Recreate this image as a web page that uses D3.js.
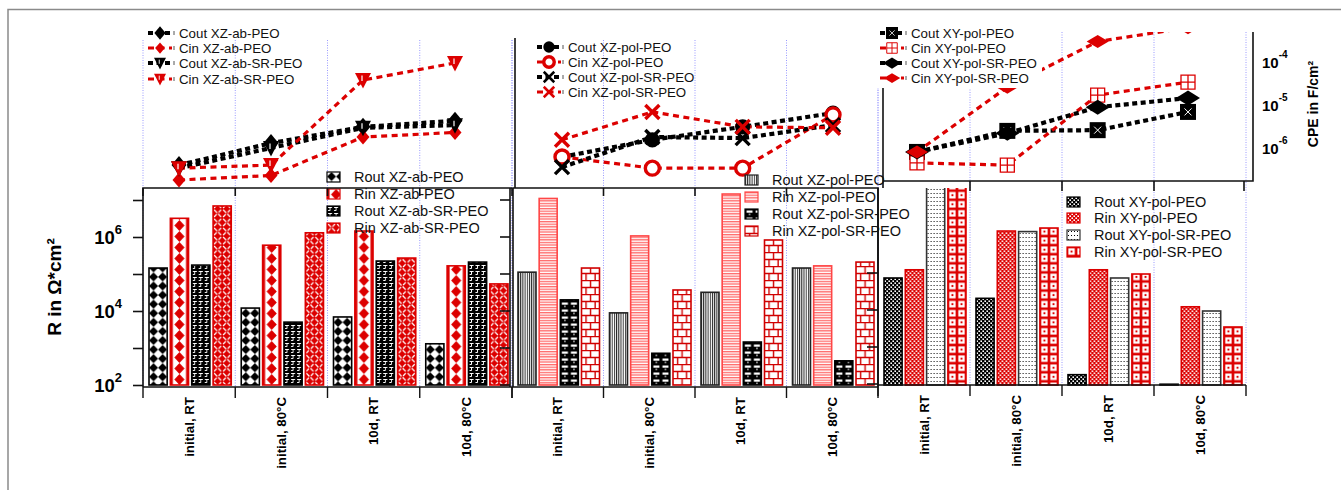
<!DOCTYPE html>
<html>
<head>
<meta charset="utf-8">
<script src="https://cdn.jsdelivr.net/npm/d3@7"></script>
<style>
  body { margin: 0; background: #fff; }
  svg { display: block; font-family: Arial, "Liberation Sans", sans-serif; }
</style>
</head>
<body>
<div id="chart"></div>
<script>
// ---- data -------------------------------------------------------------
const categories = ["initial, RT", "initial, 80°C", "10d, RT", "10d, 80°C"];

// resistance, Ohm*cm2
const routAbPeo    = [1.45e5, 1.2e4, 6.9e3, 1.3e3];
const rinAbPeo     = [3.2e6, 6.0e5, 1.45e6, 1.66e5];
const routAbSrPeo  = [1.74e5, 5.0e3, 2.24e5, 2.1e5];
const rinAbSrPeo   = [6.9e6, 1.3e6, 2.7e5, 5.4e4];

const routPolPeo   = [1.12e5, 8.9e3, 3.2e4, 1.45e5];
const rinPolPeo    = [1.1e7, 1.07e6, 1.45e7, 1.66e5];
const routPolSrPeo = [2.0e4, 7.2e2, 1.45e3, 4.5e2];
const rinPolSrPeo  = [1.45e5, 3.7e4, 8.3e5, 2.1e5];

const routXyPeo    = [7.8e4, 2.2e4, 1.9e2, 1.05e2];
const rinXyPeo     = [1.3e5, 1.45e6, 1.3e5, 1.3e4];
const routXySrPeo  = [5e7, 1.4e6, 7.8e4, 1.0e4];
const rinXySrPeo   = [5e7, 1.75e6, 1.0e5, 3.7e3];

// CPE, F/cm2
const coutAbPeo    = [4.0e-7, 1.3e-6, 3.1e-6, 4.3e-6];
const cinAbPeo     = [1.8e-7, 2.3e-7, 1.8e-6, 2.3e-6];
const coutAbSrPeo  = [3.4e-7, 1.0e-6, 2.95e-6, 3.4e-6];
const cinAbSrPeo   = [3.4e-7, 4.0e-7, 3.8e-5, 9.5e-5];

const coutPolPeo   = [6.2e-7, 1.55e-6, 3.1e-6, 6.5e-6];
const cinPolPeo    = [6.2e-7, 3.4e-7, 3.4e-7, 5.9e-6];
const coutPolSrPeo = [3.6e-7, 1.8e-6, 1.7e-6, 3.4e-6];
const cinPolSrPeo  = [1.55e-6, 6.9e-6, 3.1e-6, 2.95e-6];

const coutXyPeo    = [8.1e-7, 2.5e-6, 2.6e-6, 6.9e-6];
const cinXyPeo     = [4.5e-7, 4.0e-7, 1.7e-5, 3.4e-5];
const coutXySrPeo  = [8.1e-7, 2.2e-6, 8.9e-6, 1.45e-5];
const cinXySrPeo   = [8.1e-7, 2.6e-5, 3.0e-4, 6.3e-4];

const rTicks = [1e2, 1e3, 1e4, 1e5, 1e6, 1e7];
const rLabels = [1e2, 1e4, 1e6];
const cLabels = [1e-4, 1e-5, 1e-6];

// ---- layout -----------------------------------------------------------
const W = 1341, H = 490;
const RED = "#dc0000";

const svg = d3.select("#chart").append("svg")
  .attr("width", W).attr("height", H);
const defs = svg.append("defs");

// outer frame (only top/left visible)
svg.append("path").attr("d", "M8,490V9.5H1341")
  .attr("fill", "none").attr("stroke", "#8a8a8a").attr("stroke-width", 1.5);

const yR = d3.scaleLog().domain([1e2, 1e7]).range([385, 200]);
const yC = d3.scaleLog().domain([1e-6, 1e-4]).range([148, 62]);

const panels = [
  {
    range: [143, 512], lineRange: [179, 455], lineTop: 40, gridTop: 40, barBottom: 387,
    bars: [
      { name: "Rout XZ-ab-PEO", values: routAbPeo, pat: "pAbOut", stroke: "#000" },
      { name: "Rin XZ-ab-PEO", values: rinAbPeo, pat: "pAbIn", stroke: RED },
      { name: "Rout XZ-ab-SR-PEO", values: routAbSrPeo, pat: "pAbSrOut", stroke: "#000" },
      { name: "Rin XZ-ab-SR-PEO", values: rinAbSrPeo, pat: "pAbSrIn", stroke: RED }
    ],
    barLegend: { x: 327, rows: [177, 194, 211, 228] },
    lines: [
      { name: "Cout XZ-ab-PEO", values: coutAbPeo, color: "#000", marker: "diamond" },
      { name: "Cin XZ-ab-PEO", values: cinAbPeo, color: RED, marker: "diamondS" },
      { name: "Cout XZ-ab-SR-PEO", values: coutAbSrPeo, color: "#000", marker: "tri" },
      { name: "Cin XZ-ab-SR-PEO", values: cinAbSrPeo, color: RED, marker: "tri" }
    ],
    lineLegend: { x: 148, rows: [33, 48, 63, 79] }
  },
  {
    range: [512, 878], lineRange: [562, 833], lineTop: 38, gridTop: 40, barBottom: 387,
    bars: [
      { name: "Rout XZ-pol-PEO", values: routPolPeo, pat: "pPolOut", stroke: "#222" },
      { name: "Rin XZ-pol-PEO", values: rinPolPeo, pat: "pPolIn", stroke: "#ff4646" },
      { name: "Rout XZ-pol-SR-PEO", values: routPolSrPeo, pat: "pPolSrOut", stroke: "#000" },
      { name: "Rin XZ-pol-SR-PEO", values: rinPolSrPeo, pat: "pPolSrIn", stroke: "#d00000" }
    ],
    barLegend: { x: 745, rows: [180, 197, 214, 231] },
    lines: [
      { name: "Cout XZ-pol-PEO", values: coutPolPeo, color: "#000", marker: "circle" },
      { name: "Cin XZ-pol-PEO", values: cinPolPeo, color: RED, marker: "circleOpen" },
      { name: "Cout XZ-pol-SR-PEO", values: coutPolSrPeo, color: "#000", marker: "cross" },
      { name: "Cin XZ-pol-SR-PEO", values: cinPolSrPeo, color: RED, marker: "cross" }
    ],
    lineLegend: { x: 537, rows: [47, 62, 77, 92] }
  },
  {
    range: [878, 1246], lineRange: [917, 1188], lineTop: 32, gridTop: 32, barBottom: 385,
    bars: [
      { name: "Rout XY-pol-PEO", values: routXyPeo, pat: "pXyOut", stroke: "#000" },
      { name: "Rin XY-pol-PEO", values: rinXyPeo, pat: "pXyIn", stroke: RED },
      { name: "Rout XY-pol-SR-PEO", values: routXySrPeo, pat: "pXySrOut", stroke: "#333" },
      { name: "Rin XY-pol-SR-PEO", values: rinXySrPeo, pat: "pXySrIn", stroke: RED }
    ],
    barLegend: { x: 1067, rows: [202, 218, 235, 252] },
    lines: [
      { name: "Cout XY-pol-PEO", values: coutXyPeo, color: "#000", marker: "square" },
      { name: "Cin XY-pol-PEO", values: cinXyPeo, color: RED, marker: "squareOpen" },
      { name: "Cout XY-pol-SR-PEO", values: coutXySrPeo, color: "#000", marker: "flat" },
      { name: "Cin XY-pol-SR-PEO", values: cinXySrPeo, color: RED, marker: "flatS" }
    ],
    lineLegend: { x: 880, rows: [33, 48, 63, 78] }
  }
];

// bar width from first panel's scales
const band0 = d3.scaleBand().domain(categories).range(panels[0].range);
const inner0 = d3.scaleBand().domain(d3.range(4)).range([6, band0.bandwidth() - 4]).paddingInner(0.15);
const bw = inner0.bandwidth();

// ---- patterns ---------------------------------------------------------
function pattern(id, w, h, draw) {
  const p = defs.append("pattern").attr("id", id)
    .attr("patternUnits", "userSpaceOnUse").attr("width", w).attr("height", h);
  draw(p, w, h);
}
pattern("pAbOut", bw / 2, bw / 2, (p, w, h) => {
  p.append("rect").attr("width", w).attr("height", h).attr("fill", "#fff");
  p.append("path").attr("d", `M${w/2},0L${w},${h/2}L${w/2},${h}L0,${h/2}Z`).attr("fill", "#000");
});
pattern("pAbIn", bw, 11, (p, w, h) => {
  p.append("rect").attr("width", w).attr("height", h).attr("fill", "#fff");
  p.append("path").attr("d", `M${w/2},0L${w*0.78},${h/2}L${w/2},${h}L${w*0.22},${h/2}Z`).attr("fill", RED);
  p.append("rect").attr("width", 2.5).attr("height", h).attr("fill", RED);
  p.append("rect").attr("x", w - 2.5).attr("width", 2.5).attr("height", h).attr("fill", RED);
});
pattern("pAbSrOut", bw / 3, 6, (p, w, h) => {
  p.append("rect").attr("width", w).attr("height", h).attr("fill", "#000");
  p.append("path").attr("d", `M1,1.5H${w-1}M${w/2},1.5V4.5M1,4.5H${w/2}`)
    .attr("stroke", "#fff").attr("stroke-width", 0.9).attr("fill", "none");
});
pattern("pAbSrIn", bw / 2, bw / 2, (p, w, h) => {
  p.append("rect").attr("width", w).attr("height", h).attr("fill", RED);
  p.append("path").attr("d", `M1,1L${w/2-0.5},${h/2-0.5}M${w/2+0.5},${h/2+0.5}L${w-1},${h-1}M${w-1},1L${w/2+1},${h/2-1}M${w/2-1},${h/2+1}L1,${h-1}`)
    .attr("stroke", "#fff").attr("stroke-width", 1.3).attr("fill", "none");
});
pattern("pPolOut", 2.2, 4, (p, w, h) => {
  p.append("rect").attr("width", w).attr("height", h).attr("fill", "#fff");
  p.append("rect").attr("width", 1).attr("height", h).attr("fill", "#222");
});
pattern("pPolIn", 4, 2.6, (p, w, h) => {
  p.append("rect").attr("width", w).attr("height", h).attr("fill", "#fff");
  p.append("rect").attr("width", w).attr("height", 1.3).attr("fill", "#ff6a6a");
});
pattern("pPolSrOut", bw / 2, 7, (p, w, h) => {
  p.append("rect").attr("width", w).attr("height", h).attr("fill", "#000");
  p.append("rect").attr("x", 1.5).attr("y", 1.5).attr("width", w - 3).attr("height", 2.2).attr("fill", "#fff");
  p.append("rect").attr("x", w / 2 - 0.5).attr("y", 4.5).attr("width", 1).attr("height", 1.8).attr("fill", "#fff");
});
pattern("pPolSrIn", bw, 14, (p, w, h) => {
  p.append("rect").attr("width", w).attr("height", h).attr("fill", "#fff");
  p.append("path").attr("d", `M0,0.5H${w}M0,7.5H${w}M${w/2},0V7M${w/4},7V14M${w*3/4},7V14`)
    .attr("stroke", "#d00000").attr("stroke-width", 1.4).attr("fill", "none");
});
pattern("pXyOut", 4, 4, (p, w, h) => {
  p.append("rect").attr("width", w).attr("height", h).attr("fill", "#000");
  p.append("rect").attr("x", 0.4).attr("y", 0.4).attr("width", 1.6).attr("height", 1.6).attr("fill", "#fff");
  p.append("rect").attr("x", 2.4).attr("y", 2.4).attr("width", 1.6).attr("height", 1.6).attr("fill", "#fff");
});
pattern("pXyIn", 4, 4, (p, w, h) => {
  p.append("rect").attr("width", w).attr("height", h).attr("fill", RED);
  p.append("rect").attr("x", 0.4).attr("y", 0.4).attr("width", 1.6).attr("height", 1.6).attr("fill", "#fff");
  p.append("rect").attr("x", 2.4).attr("y", 2.4).attr("width", 1.6).attr("height", 1.6).attr("fill", "#fff");
});
pattern("pXySrOut", 3, 4, (p, w, h) => {
  p.append("rect").attr("width", w).attr("height", h).attr("fill", "#fff");
  p.append("rect").attr("x", 1).attr("y", 1).attr("width", 1).attr("height", 1).attr("fill", "#000");
});
pattern("pXySrIn", bw / 2, bw / 2, (p, w, h) => {
  p.append("rect").attr("width", w).attr("height", h).attr("fill", RED);
  p.append("rect").attr("x", 1.3).attr("y", 1.3).attr("width", w - 2.6).attr("height", h - 2.6).attr("fill", "#fff");
  p.append("rect").attr("x", w / 2 - 1).attr("y", h / 2 - 1).attr("width", 2).attr("height", 2).attr("fill", RED);
});

// clip paths
panels.forEach((pn, i) => {
  defs.append("clipPath").attr("id", "barClip" + i).append("rect")
    .attr("x", pn.range[0]).attr("y", 188).attr("width", pn.range[1] - pn.range[0]).attr("height", 200);
  defs.append("clipPath").attr("id", "lineClip" + i).append("rect")
    .attr("x", pn.range[0] - 10).attr("y", pn.lineTop).attr("width", pn.range[1] - pn.range[0] + 20).attr("height", 190 - pn.lineTop);
});

// ---- markers ----------------------------------------------------------
function marker(g, type, color, s) {
  s = s || 1;
  const P = (d) => g.append("path").attr("d", d).attr("transform", `scale(${s})`);
  switch (type) {
    case "diamond": P("M0,-9L7.5,0L0,9L-7.5,0Z").attr("fill", color); break;
    case "diamondS": P("M0,-7.5L6.5,0L0,7.5L-6.5,0Z").attr("fill", color); break;
    case "tri":
      P("M-8,-7L8,-7L0,8.5Z").attr("fill", color);
      P("M-1,-4.5V1").attr("stroke", "#fff").attr("stroke-width", 1.2); break;
    case "circle": P(d3.symbol(d3.symbolCircle, 180)()).attr("fill", color); break;
    case "circleOpen":
      g.append("circle").attr("r", 7 * s).attr("fill", "#fff").attr("stroke", color).attr("stroke-width", 3.4); break;
    case "cross": P("M-7,-7L7,7M7,-7L-7,7").attr("stroke", color).attr("stroke-width", 3.4).attr("fill", "none"); break;
    case "square":
      P("M-8,-8H8V8H-8Z").attr("fill", color);
      P("M-3.5,-3.5L3.5,3.5M3.5,-3.5L-3.5,3.5").attr("stroke", "#fff").attr("stroke-width", 1); break;
    case "squareOpen":
      P("M-7,-7H7V7H-7ZM0,-7V7M-7,0H7").attr("fill", "#fff").attr("stroke", color).attr("stroke-width", 1.3); break;
    case "flat": P("M-12,0L0,-7.5L12,0L0,7.5Z").attr("fill", color); break;
    case "flatS": P("M-11,0L0,-6.5L11,0L0,6.5Z").attr("fill", color); break;
  }
}

function lineStyle(sel, color) {
  return sel.attr("fill", "none").attr("stroke", color)
    .attr("stroke-width", color === "#000" ? 4.2 : 3.2)
    .attr("stroke-dasharray", color === "#000" ? "5,3.5" : "6,4.5");
}

// ---- draw panels ------------------------------------------------------
panels.forEach((pn, i) => {
  const x = d3.scaleBand().domain(categories).range(pn.range);
  const inner = d3.scaleBand().domain(d3.range(4)).range([6, x.bandwidth() - 4]).paddingInner(0.15);
  const xl = d3.scalePoint().domain(categories).range(pn.lineRange);
  const bounds = categories.map(c => x(c)).concat([pn.range[1]]);

  // blue dotted grid
  svg.append("g").selectAll("line").data(bounds).join("line")
    .attr("x1", d => d).attr("x2", d => d)
    .attr("y1", pn.gridTop).attr("y2", pn.barBottom - 1)
    .attr("stroke", "#9a9aff").attr("stroke-width", 1).attr("stroke-dasharray", "1,1.5");

  // bars
  const barG = svg.append("g").attr("clip-path", `url(#barClip${i})`);
  pn.bars.forEach((s, k) => {
    barG.append("g").selectAll("g").data(s.values).join("g")
      .attr("transform", (d, j) => `translate(${x(categories[j]) + inner(k)},0)`)
      .append("rect")
      .attr("x", 0).attr("width", inner.bandwidth())
      .attr("y", d => yR(d))
      .attr("height", d => yR(1e2) - yR(d))
      .attr("fill", `url(#${s.pat})`)
      .attr("stroke", s.stroke).attr("stroke-width", 1.6);
  });

  // CPE lines
  const lineG = svg.append("g").attr("clip-path", `url(#lineClip${i})`);
  const line = d3.line().x((d, j) => xl(categories[j])).y(d => yC(d));
  pn.lines.forEach(s => {
    lineStyle(lineG.append("path").attr("d", line(s.values)), s.color);
  });
  pn.lines.forEach(s => {
    s.values.forEach((v, j) => {
      marker(lineG.append("g").attr("transform", `translate(${xl(categories[j])},${yC(v)})`), s.marker, s.color);
    });
  });

  // bottom axis ticks + labels
  const axB = svg.append("g");
  axB.append("line").attr("x1", pn.range[0]).attr("x2", pn.range[1])
    .attr("y1", pn.barBottom).attr("y2", pn.barBottom).attr("stroke", "#111").attr("stroke-width", 1.6);
  axB.selectAll("line.t").data(bounds).join("line").attr("class", "t")
    .attr("x1", d => d).attr("x2", d => d)
    .attr("y1", pn.barBottom).attr("y2", pn.barBottom + 11)
    .attr("stroke", "#111").attr("stroke-width", 1.4);
  axB.selectAll("text").data(categories).join("text")
    .attr("transform", d => `translate(${x(d) + x.bandwidth() / 2},${pn.barBottom + 10}) rotate(-90)`)
    .attr("text-anchor", "end").attr("dy", "0.35em")
    .attr("font-size", 13.3).attr("font-weight", "bold").attr("fill", "#000")
    .text(d => d);

  // bar legend
  const bl = svg.append("g");
  pn.bars.forEach((s, k) => {
    const r = pn.barLegend.rows[k];
    bl.append("g").attr("transform", `translate(${pn.barLegend.x},${r - 5})`)
      .append("rect").attr("width", 13).attr("height", 10)
      .attr("fill", `url(#${s.pat})`).attr("stroke", s.stroke).attr("stroke-width", 1.2);
    bl.append("text").attr("x", pn.barLegend.x + 27).attr("y", r).attr("dy", "0.35em")
      .attr("font-size", 14.5).attr("fill", "#111").text(s.name);
  });
});

// ---- frames / axes ----------------------------------------------------
const frame = svg.append("g").attr("stroke", "#111").attr("stroke-width", 1.6).attr("fill", "none");
frame.append("path").attr("d", "M143,387V188H512M510,188V387");
frame.append("path").attr("d", "M513,387V188H878V387");
frame.append("path").attr("d", "M515,38V188");
frame.append("path").attr("d", "M883,32V181H1253V32M883,181V188M878,188V385");

// top ticks of left/middle bar panels
[panels[0], panels[1]].forEach(pn => {
  const x = d3.scaleBand().domain(categories).range(pn.range);
  frame.append("g").selectAll("line").data(categories.slice(1).map(c => x(c)).concat([pn.range[0]]))
    .join("line").attr("x1", d => d).attr("x2", d => d).attr("y1", 188).attr("y2", 196);
});
// right top bottom ticks
{
  const x = d3.scaleBand().domain(categories).range(panels[2].range);
  frame.append("g").selectAll("line").data(categories.slice(1).map(c => x(c)).concat([1244]))
    .join("line").attr("x1", d => d).attr("x2", d => d).attr("y1", 181).attr("y2", 191);
}
// inner right-side ticks of left and middle bar panels
frame.append("g").selectAll("line").data(rTicks).join("line")
  .attr("x1", 500).attr("x2", 510).attr("y1", d => yR(d)).attr("y2", d => yR(d));
frame.append("g").selectAll("line").data(rTicks.slice(0, 4)).join("line")
  .attr("x1", 867).attr("x2", 878).attr("y1", d => yR(d) - 1).attr("y2", d => yR(d) - 1);

// left R axis
const axL = svg.append("g").attr("transform", "translate(143,0)")
  .call(d3.axisLeft(yR).tickValues(rTicks).tickSize(10).tickFormat(""));
axL.select(".domain").remove();
axL.selectAll(".tick line").attr("stroke", "#111").attr("stroke-width", 1.6);

const lab = svg.append("g").selectAll("text").data(rLabels).join("text")
  .attr("x", 122).attr("y", d => yR(d) + 7)
  .attr("text-anchor", "end").attr("font-weight", "bold").attr("fill", "#000");
lab.append("tspan").attr("font-size", 18.5).text("10");
lab.append("tspan").attr("font-size", 13).attr("dy", -10).text(d => Math.round(Math.log10(d)));

svg.append("text").attr("transform", "translate(61,287) rotate(-90)")
  .attr("text-anchor", "middle").attr("font-size", 19).attr("font-weight", "bold")
  .text("R in Ω*cm²");

// right CPE axis labels
const cl = svg.append("g").selectAll("text").data(cLabels).join("text")
  .attr("x", 1262).attr("y", d => yC(d) + 6)
  .attr("font-weight", "bold").attr("fill", "#000");
cl.append("tspan").attr("font-size", 15).text("10");
cl.append("tspan").attr("font-size", 10).attr("dy", -10).text(d => Math.round(Math.log10(d)));

svg.append("text").attr("transform", "translate(1318,104) rotate(-90)")
  .attr("text-anchor", "middle").attr("font-size", 14).attr("font-weight", "bold")
  .text("CPE in F/cm²");

// ---- line legends -----------------------------------------------------
panels.forEach((pn, i) => {
  const lg = svg.append("g");
  if (i === 2) {
    lg.append("rect").attr("x", 876).attr("y", 24).attr("width", 166).attr("height", 64).attr("fill", "#fff");
  }
  const x0 = pn.lineLegend.x;
  pn.lines.forEach((s, k) => {
    const r = pn.lineLegend.rows[k];
    lineStyle(lg.append("path").attr("d", `M${x0},${r}H${x0 + 24}`), s.color);
    marker(lg.append("g").attr("transform", `translate(${x0 + 12},${r})`), s.marker, s.color, 0.75);
    lg.append("line").attr("x1", x0 + 26).attr("x2", x0 + 26).attr("y1", r - 2).attr("y2", r + 2)
      .attr("stroke", "#555").attr("stroke-width", 1);
    lg.append("text").attr("x", x0 + 31).attr("y", r).attr("dy", "0.35em")
      .attr("font-size", 13.3).attr("fill", "#111").text(s.name);
  });
});
</script>
</body>
</html>
